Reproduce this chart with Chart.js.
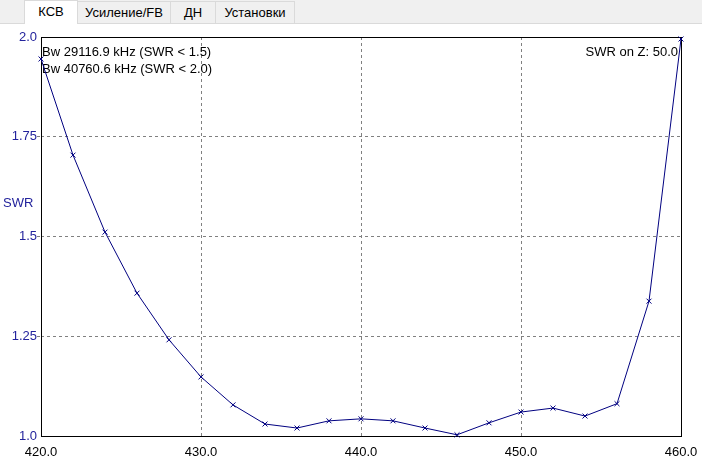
<!DOCTYPE html>
<html>
<head>
<meta charset="utf-8">
<script src="https://cdn.jsdelivr.net/npm/chart.js@4/dist/chart.umd.min.js"></script>
<style>
  body { margin: 0; width: 702px; height: 465px; background: #fff; overflow: hidden; font-family: "Liberation Sans", Arial, sans-serif; }
  .tabs { position: absolute; left: 0; top: 0; width: 702px; height: 23px; background: #f0f0f0; border-bottom: 1px solid #dadada; }
  .tab { position: absolute; top: 1px; height: 22px; line-height: 22px; font-size: 13px; color: #000; text-align: center; border: 1px solid #dadada; border-bottom: none; background: #f0f0f0; box-sizing: border-box; }
  .tab.active { top: 0; height: 24px; background: #fff; }
  .wrap { position: absolute; left: 0; top: 24px; width: 702px; height: 441px; }
</style>
</head>
<body>
<div class="tabs">
  <div class="tab active" style="left:24px;width:54px;">КСВ</div>
  <div class="tab" style="left:77px;width:94px;">Усиление/FB</div>
  <div class="tab" style="left:170px;width:46px;">ДН</div>
  <div class="tab" style="left:215px;width:80px;">Установки</div>
</div>
<div class="wrap"><canvas id="swrChart" width="702" height="441"></canvas></div>
<script>
// frequency, MHz
const freqs = [420, 422, 424, 426, 428, 430, 432, 434, 436, 438, 440, 442, 444, 446, 448, 450, 452, 454, 456, 458, 460];
// SWR
const swr = [1.945, 1.704, 1.511, 1.358, 1.241, 1.148, 1.078, 1.030, 1.020, 1.038, 1.043, 1.038, 1.020, 1.003, 1.033, 1.060, 1.070, 1.050, 1.081, 1.338, 1.995];
const xTickLabels = ['420.0', '430.0', '440.0', '450.0', '460.0'];
const yTickLabels = ['1.0', '1.25', '1.5', '1.75', '2.0'];
const bwLines = ['Bw 29116.9 kHz (SWR < 1.5)', 'Bw 40760.6 kHz (SWR < 2.0)'];
const zLabel = 'SWR on Z: 50.0';
const yTitle = 'SWR';

const FONT = '"Liberation Sans", Arial, sans-serif';
const BLUE = '#23239c';

// frame + texts inside the plot
const overlay = {
    id: 'overlay',
    beforeDatasetsDraw(chart) {
        const { ctx, chartArea: a } = chart;
        ctx.save();
        ctx.strokeStyle = '#000';
        ctx.lineWidth = 1;
        ctx.strokeRect(Math.round(a.left) + 0.5, Math.round(a.top) + 0.5, Math.round(a.right - a.left), Math.round(a.bottom - a.top));
        ctx.font = '13px ' + FONT;
        ctx.fillStyle = '#000';
        ctx.textBaseline = 'middle';
        ctx.textAlign = 'left';
        bwLines.forEach((t, i) => ctx.fillText(t, a.left + 1, a.top + 15 + i * 17));
        ctx.textAlign = 'right';
        ctx.fillText(zLabel, a.right - 3, a.top + 15);
        ctx.fillStyle = BLUE;
        ctx.textAlign = 'left';
        ctx.fillText(yTitle, 3, 179);
        ctx.restore();
    }
};

const ctx = document.getElementById('swrChart').getContext('2d');

new Chart(ctx, {
    type: 'line',
    data: {
        datasets: [{
            data: freqs.map((f, i) => ({ x: f, y: swr[i] })),
            borderColor: '#000080',
            borderWidth: 1,
            pointStyle: 'crossRot',
            pointRadius: 3.5,
            pointBorderColor: '#000080',
            pointBorderWidth: 1,
            tension: 0,
            clip: false
        }]
    },
    options: {
        responsive: false,
        animation: false,
        layout: { padding: { top: 13, right: 21, left: 0, bottom: 0 } },
        plugins: {
            legend: { display: false },
            tooltip: { enabled: false }
        },
        scales: {
            x: {
                type: 'linear',
                min: 420,
                max: 460,
                afterFit: (s) => { s.height = 29; s.paddingLeft = 0; s.paddingRight = 0; },
                border: { display: false, dash: [3, 3] },
                grid: {
                    color: (c) => (c.tick && (c.tick.value === 420 || c.tick.value === 460)) ? 'rgba(0,0,0,0)' : '#808080',
                    lineWidth: 1,
                    drawTicks: false
                },
                ticks: {
                    stepSize: 10,
                    padding: 9,
                    maxRotation: 0,
                    color: '#000',
                    font: { family: FONT, size: 13 },
                    callback: (v) => xTickLabels[Math.round((v - 420) / 10)]
                }
            },
            y: {
                min: 1.0,
                max: 2.0,
                afterFit: (s) => { s.width = 41; s.paddingTop = 0; s.paddingBottom = 0; },
                border: { display: false, dash: [3, 3] },
                grid: {
                    color: (c) => (c.tick && (c.tick.value === 1 || c.tick.value === 2)) ? 'rgba(0,0,0,0)' : '#808080',
                    lineWidth: 1,
                    tickLength: 4,
                    tickBorderDash: [3, 3]
                },
                ticks: {
                    stepSize: 0.25,
                    padding: 0,
                    color: BLUE,
                    font: { family: FONT, size: 13 },
                    callback: (v) => yTickLabels[Math.round((v - 1) / 0.25)]
                }
            }
        }
    },
    plugins: [overlay]
});
</script>
</body>
</html>
